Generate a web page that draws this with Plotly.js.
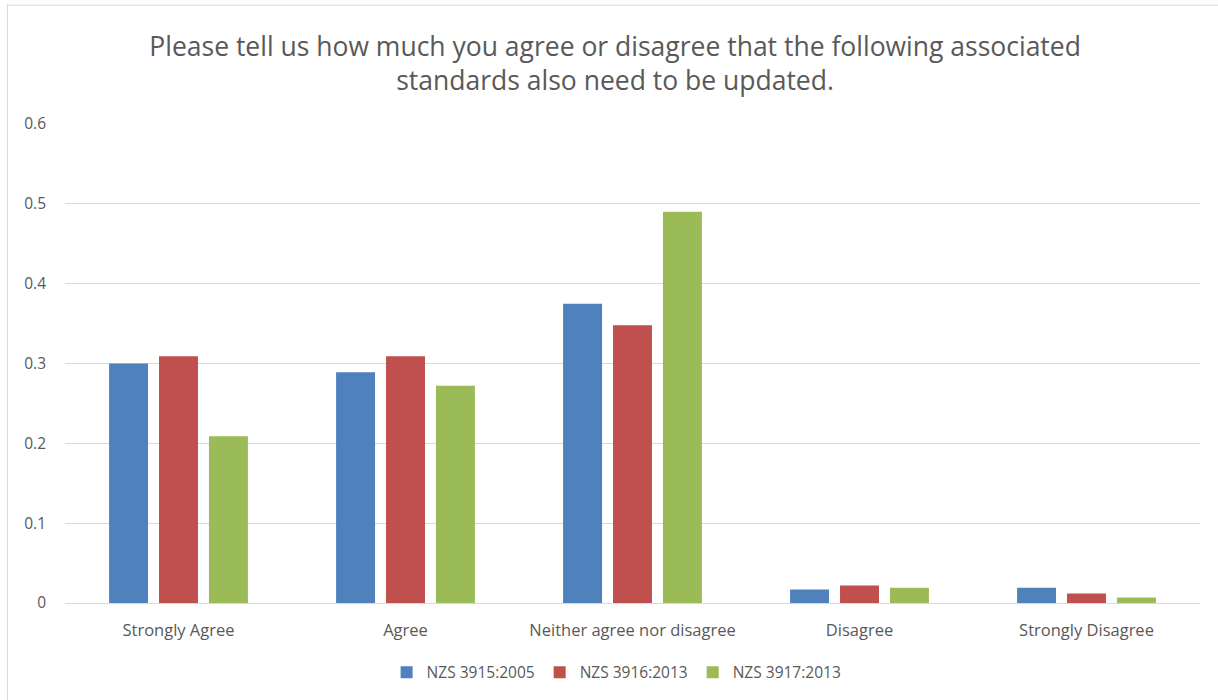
<!DOCTYPE html>
<html>
<head>
<meta charset="utf-8">
<script src="https://cdn.plot.ly/plotly-3.0.1.min.js"></script>
<style>
html,body{margin:0;padding:0;background:#fff;}
#chart{width:1218px;height:700px;}
</style>
</head>
<body>
<div id="chart"></div>
<script>
const categories = ["Strongly Agree", "Agree", "Neither agree nor disagree", "Disagree", "Strongly Disagree"];
const seriesNames = ["NZS 3915:2005", "NZS 3916:2013", "NZS 3917:2013"];
const nzs3915 = [0.30, 0.289, 0.375, 0.017, 0.019];
const nzs3916 = [0.309, 0.309, 0.348, 0.022, 0.012];
const nzs3917 = [0.209, 0.272, 0.490, 0.019, 0.007];
const colors = ["#4F81BD", "#C0504D", "#9BBB59"];
const yTicks = [0, 0.1, 0.2, 0.3, 0.4, 0.5, 0.6];
const yTickLabels = ["0", "0.1", "0.2", "0.3", "0.4", "0.5", "0.6"];

const values = [nzs3915, nzs3916, nzs3917];
const traces = values.map((v, i) => ({
  type: "bar",
  name: seriesNames[i],
  x: categories,
  y: v,
  marker: {color: colors[i]},
  hoverinfo: "x+y+name"
}));

const textColor = "#595959";
const layout = {
  width: 1218,
  height: 700,
  margin: {l: 65, r: 18, t: 124, b: 96},
  paper_bgcolor: "#ffffff",
  plot_bgcolor: "#ffffff",
  font: {family: "Open Sans, sans-serif", color: textColor, size: 14},
  title: {
    text: "Please tell us how much you agree or disagree that the following associated<br>standards also need to be updated.",
    font: {family: "Open Sans, sans-serif", size: 26.5, color: textColor},
    x: 0.505,
    xanchor: "center",
    y: 0.92,
    yanchor: "middle"
  },
  barmode: "group",
  bargap: 0.34,
  bargroupgap: 0.22,
  xaxis: {
    showgrid: false,
    showline: true,
    linecolor: "#D9D9D9",
    linewidth: 1,
    ticks: "",
    ticklabelstandoff: 12,
    tickfont: {size: 16.5, color: textColor},
    fixedrange: true
  },
  yaxis: {
    range: [0, 0.6],
    tickvals: yTicks,
    ticktext: yTickLabels,
    showgrid: true,
    gridcolor: "#D9D9D9",
    gridwidth: 1,
    zeroline: false,
    showline: false,
    ticks: "",
    ticklabelstandoff: 18,
    tickfont: {size: 15.5, color: textColor},
    fixedrange: true
  },
  legend: {
    orientation: "h",
    x: 0.486,
    xanchor: "center",
    y: -0.143,
    yanchor: "middle",
    font: {size: 15.5, color: textColor},
    itemwidth: 30,
    traceorder: "normal"
  },
  showlegend: true,
  shapes: [
    {type: "line", xref: "paper", yref: "paper", x0: -0.0507, x1: -0.0507, y0: 1.25, y1: -0.23, line: {color: "#D9D9D9", width: 1}},
    {type: "line", xref: "paper", yref: "paper", x0: -0.0507, x1: 1.02, y0: 1.248, y1: 1.248, line: {color: "#D9D9D9", width: 1}}
  ]
};

Plotly.newPlot("chart", traces, layout, {displayModeBar: false, staticPlot: true});
</script>
</body>
</html>
